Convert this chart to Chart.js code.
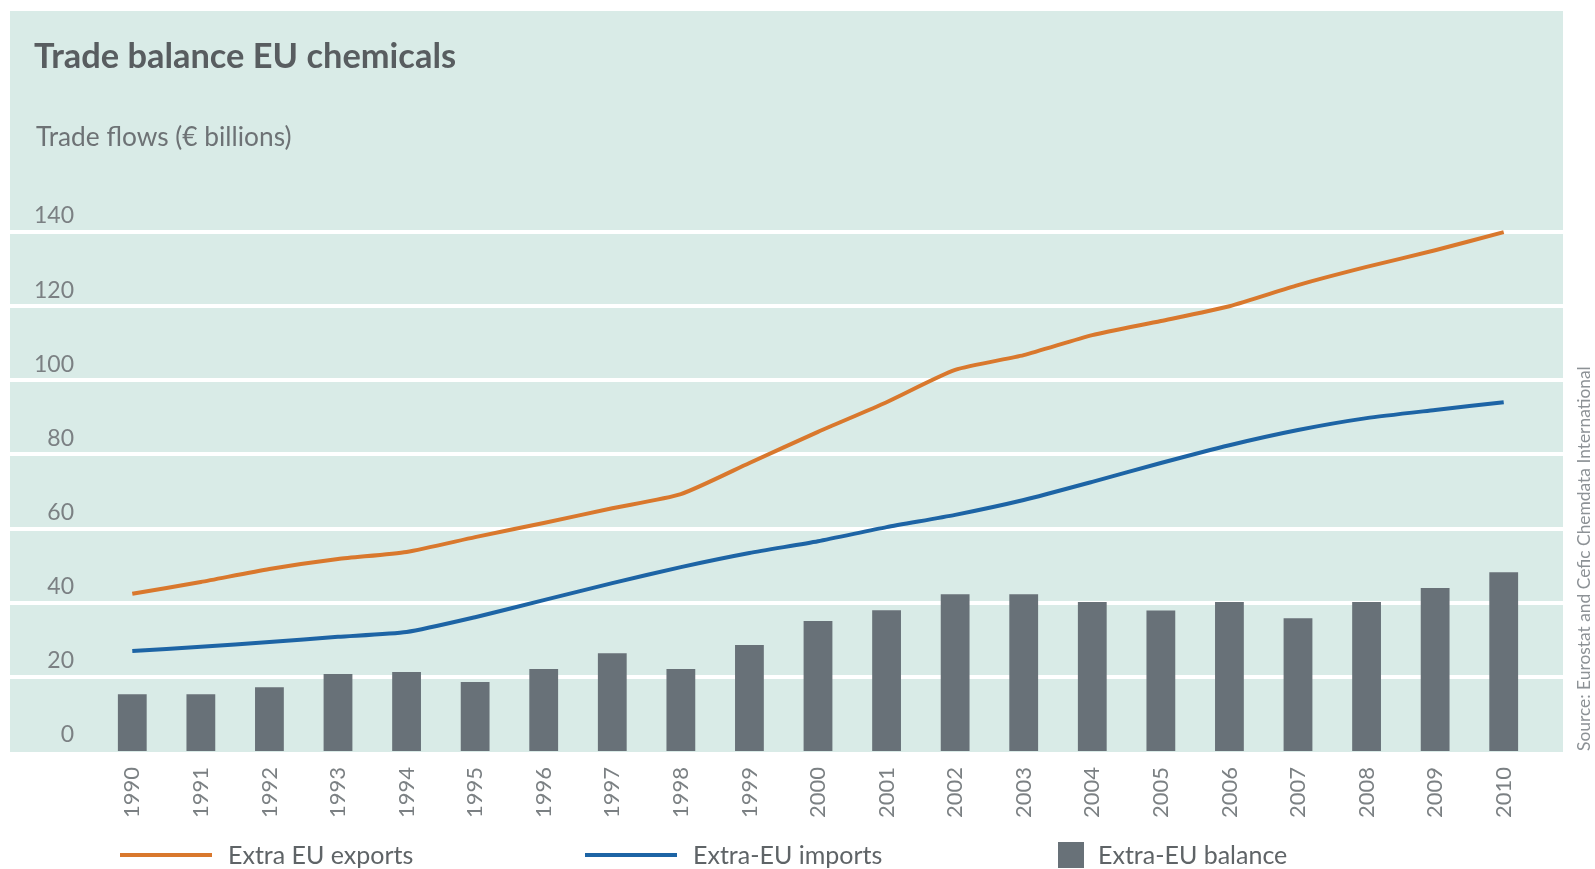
<!DOCTYPE html>
<html>
<head>
<meta charset="utf-8">
<title>Trade balance EU chemicals</title>
<script src="https://cdn.jsdelivr.net/npm/chart.js@4"></script>
<style>
  html, body { margin: 0; padding: 0; background: #ffffff; }
  #wrap { width: 1595px; height: 869px; }
</style>
</head>
<body>
<div id="wrap"><canvas id="canvas" width="1595" height="869"></canvas></div>
<script>
const years = ["1990", "1991", "1992", "1993", "1994", "1995", "1996", "1997", "1998", "1999",
  "2000", "2001", "2002", "2003", "2004", "2005", "2006", "2007", "2008", "2009", "2010"];
const exportsEU = [42.4, 45.6, 49.1, 51.8, 53.7, 57.7, 61.5, 65.5, 69.3, 77.7,
  86.1, 94.1, 102.8, 106.8, 112.2, 116.0, 120.0, 125.7, 130.6, 135.1, 140.0];
const importsEU = [27.0, 28.1, 29.4, 30.8, 32.1, 36.1, 40.7, 45.3, 49.6, 53.4,
  56.6, 60.4, 63.7, 67.7, 72.6, 77.7, 82.5, 86.6, 89.8, 92.0, 94.1];
const balanceEU = [15.3, 15.3, 17.2, 20.8, 21.3, 18.6, 22.1, 26.4, 22.1, 28.6,
  35.1, 38.0, 42.3, 42.3, 40.2, 37.9, 40.2, 35.8, 40.2, 44.0, 48.2];
const yTicks = [0, 20, 40, 60, 80, 100, 120, 140];

const titleText = "Trade balance EU chemicals";
const unitText = "Trade flows (€ billions)";
const sourceText = "Source: Eurostat and Cefic Chemdata International";

const FONT = "Lato, 'Open Sans', sans-serif";
const PANEL = { left: 10, top: 11, right: 1563 };

// light panel, full-width white rules, headings and source note
const backdrop = {
  id: "backdrop",
  beforeDraw(chart) {
    const ctx = chart.ctx;
    const y = chart.scales.y;
    const base = y.getPixelForValue(0);
    ctx.save();
    ctx.fillStyle = "#d9ebe7";
    ctx.fillRect(PANEL.left, PANEL.top, PANEL.right - PANEL.left, base + 1 - PANEL.top);

    ctx.strokeStyle = "#ffffff";
    ctx.lineWidth = 4;
    yTicks.filter((v) => v > 0).forEach((v) => {
      const py = Math.round(y.getPixelForValue(v));
      ctx.beginPath();
      ctx.moveTo(PANEL.left, py);
      ctx.lineTo(PANEL.right, py);
      ctx.stroke();
    });

    ctx.fillStyle = "#585d60";
    ctx.font = "bold 34.4px " + FONT;
    ctx.textBaseline = "alphabetic";
    ctx.textAlign = "left";
    ctx.fillText(titleText, 34, 68);

    ctx.fillStyle = "#6d7275";
    ctx.font = "26.3px " + FONT;
    ctx.fillText(unitText, 36, 146);

    ctx.translate(1584, 751);
    ctx.rotate(-Math.PI / 2);
    ctx.fillStyle = "#8d9296";
    ctx.font = "17.4px " + FONT;
    ctx.textBaseline = "middle";
    ctx.fillText(sourceText, 0, 0);
    ctx.restore();
  },
};

// legend row under the year labels
const legendSlots = [120, 585, 1058];
const bottomLegend = {
  id: "bottomLegend",
  afterDraw(chart) {
    const ctx = chart.ctx;
    const cy = 855;
    ctx.save();
    ctx.font = "25px " + FONT;
    ctx.textBaseline = "middle";
    ctx.textAlign = "left";
    chart.data.datasets.forEach((ds, i) => {
      const x = legendSlots[i];
      let textX;
      if (ds.type === "line") {
        ctx.strokeStyle = ds.borderColor;
        ctx.lineWidth = 4;
        ctx.beginPath();
        ctx.moveTo(x, cy);
        ctx.lineTo(x + 92, cy);
        ctx.stroke();
        textX = x + 108;
      } else {
        ctx.fillStyle = ds.backgroundColor;
        ctx.fillRect(x, cy - 13, 26, 26);
        textX = x + 40;
      }
      ctx.fillStyle = "#5f6467";
      ctx.fillText(ds.label, textX, cy + 1);
    });
    ctx.restore();
  },
};

const ctx = document.getElementById("canvas");
const chart = new Chart(ctx, {
  type: "bar",
  data: {
    labels: years,
    datasets: [
      {
        type: "line",
        label: "Extra EU exports",
        data: exportsEU,
        borderColor: "#d9782d",
        borderWidth: 4,
        pointRadius: 0,
        tension: 0.2,
        order: 1,
      },
      {
        type: "line",
        label: "Extra-EU imports",
        data: importsEU,
        borderColor: "#1d64a5",
        borderWidth: 4,
        pointRadius: 0,
        tension: 0.2,
        order: 2,
      },
      {
        type: "bar",
        label: "Extra-EU balance",
        data: balanceEU,
        backgroundColor: "#687178",
        categoryPercentage: 1,
        barPercentage: 0.42,
        order: 3,
      },
    ],
  },
  options: {
    responsive: false,
    animation: false,
    layout: { padding: { top: 195, right: 57, left: 0, bottom: 0 } },
    plugins: {
      legend: { display: false },
      tooltip: { enabled: false },
    },
    scales: {
      x: {
        grid: { display: false, drawTicks: false },
        border: { display: false },
        ticks: {
          color: "#7b8083",
          font: { family: FONT, size: 22 },
          minRotation: 90,
          maxRotation: 90,
          padding: 16,
        },
        afterFit: (scale) => {
          scale.height = 118;
        },
      },
      y: {
        min: 0,
        max: 150,
        grid: { display: false },
        border: { display: false },
        ticks: {
          color: "#7b8083",
          font: { family: FONT, size: 23 },
          padding: 16,
          labelOffset: -16,
        },
        afterBuildTicks: (scale) => {
          scale.ticks = yTicks.map((v) => ({ value: v }));
        },
        afterFit: (scale) => {
          scale.width = 98;
        },
      },
    },
  },
  plugins: [backdrop, bottomLegend],
});
</script>
</body>
</html>
